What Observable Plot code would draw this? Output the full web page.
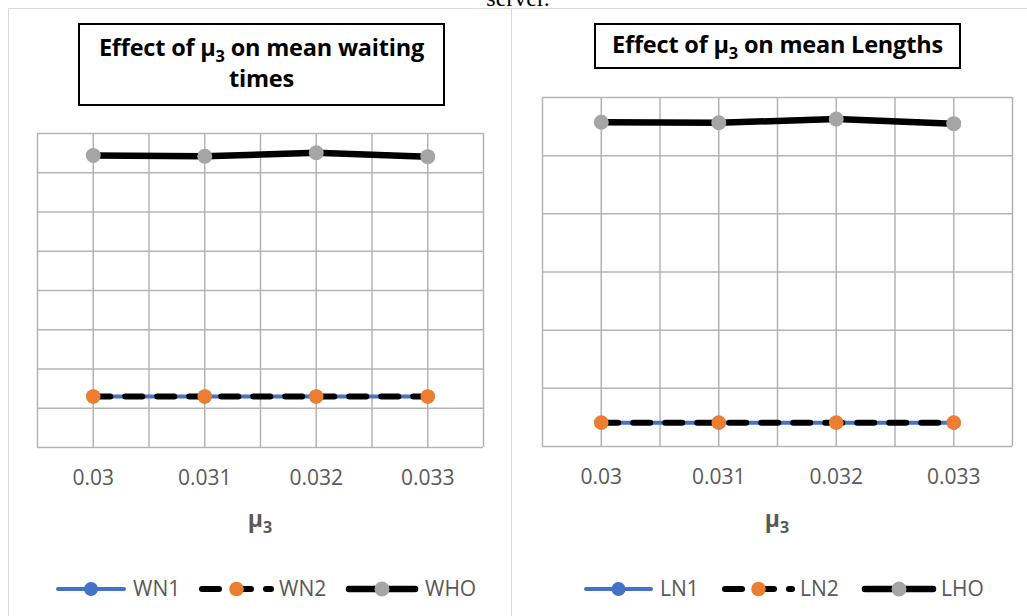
<!DOCTYPE html>
<html>
<head>
<meta charset="utf-8">
<script src="https://cdn.jsdelivr.net/npm/d3@7"></script>
<script src="https://cdn.jsdelivr.net/npm/@observablehq/plot@0.6"></script>
<style>
  body { margin: 0; background: #fff; }
  #page { position: relative; width: 1027px; height: 616px; overflow: hidden; background: #fff; font-family: "Open Sans", sans-serif; }
  .abs { position: absolute; }
  .lead { left: 0; width: 1036px; top: -14px; text-align: center; font-family: "Liberation Serif", serif; font-size: 24px; line-height: 24px; color: #000; }
  .panelL { left: 8px; top: 8px; width: 504px; height: 640px; border-top: 1.5px solid #d9d9d9; border-left: 1.5px solid #d9d9d9; border-right: 1.5px solid #d9d9d9; box-sizing: border-box; }
  .panelR { left: 512px; top: 8px; width: 520px; height: 640px; border-top: 1.5px solid #d9d9d9; box-sizing: border-box; }
  .title { box-sizing: border-box; border: 2px solid #000; background: #fff; text-align: center; font-family: "Open Sans", sans-serif; font-weight: 700; font-size: 23.5px; line-height: 31px; color: #000; letter-spacing: -0.2px; }
  .title sub, .xlab sub { font-size: 0.7em; line-height: 0; }
  .xlab { font-weight: 700; font-size: 23px; line-height: 28px; color: #595959; text-align: center; width: 100px; }
</style>
</head>
<body>
<div id="page">
  <div class="abs lead">server.</div>
  <div class="abs panelL"></div>
  <div class="abs panelR"></div>
</div>
<script>
// μ3 values along the horizontal axis
const mu3 = [0.03, 0.031, 0.032, 0.033];
const mu3Labels = ["0.03", "0.031", "0.032", "0.033"];

// Mean waiting times
const WN1 = [1.30, 1.30, 1.30, 1.30];
const WN2 = [1.30, 1.30, 1.30, 1.30];
const WHO = [7.44, 7.42, 7.51, 7.41];

// Mean lengths
const LN1 = [0.41, 0.41, 0.41, 0.41];
const LN2 = [0.41, 0.41, 0.41, 0.41];
const LHO = [5.575, 5.565, 5.63, 5.55];

const waitNames = ["WN1", "WN2", "WHO"];
const lengthNames = ["LN1", "LN2", "LHO"];

const BLUE = "#4472C4", ORANGE = "#ED7D31", GRAY = "#A5A5A5", GRID = "#b4b4b4";
const page = document.getElementById("page");

function rows(values) {
  return mu3.map((m, i) => ({mu: m, v: values[i]}));
}

// gridlines at every category and half-way between them
const step = (mu3[1] - mu3[0]) / 2;
const gridX = d3.range(0, mu3.length * 2 + 1).map(k => mu3[0] - step + k * step);
const xDomain = [gridX[0], gridX[gridX.length - 1]];

function panel({series, yMax, width, height, marginLeft, marginRight, marginTop, marginBottom}) {
  const [s1, s2, s3] = series.map(rows);
  return Plot.plot({
    width, height, marginLeft, marginRight, marginTop, marginBottom,
    style: {fontFamily: "Open Sans, sans-serif", background: "transparent", overflow: "visible"},
    x: {type: "linear", domain: xDomain},
    y: {domain: [0, yMax], axis: null},
    marks: [
      Plot.ruleX(gridX, {stroke: GRID, strokeWidth: 1.5}),
      Plot.ruleY(d3.range(0, yMax + 1), {stroke: GRID, strokeWidth: 1.5}),
      Plot.axisX({ticks: mu3, tickFormat: d => mu3Labels[mu3.indexOf(d)], tickSize: 0, tickPadding: 23,
                  fontSize: 21, fill: "#595959", label: null}),
      Plot.line(s1, {x: "mu", y: "v", stroke: BLUE, strokeWidth: 4, strokeLinecap: "round"}),
      Plot.dot(s1, {x: "mu", y: "v", r: 7, fill: BLUE, stroke: "none"}),
      Plot.line(s2, {x: "mu", y: "v", stroke: "#000", strokeWidth: 6, strokeLinecap: "round", strokeDasharray: "17 15"}),
      Plot.dot(s2, {x: "mu", y: "v", r: 7.3, fill: ORANGE, stroke: "none"}),
      Plot.line(s3, {x: "mu", y: "v", stroke: "#000", strokeWidth: 6.5}),
      Plot.dot(s3, {x: "mu", y: "v", r: 7.5, fill: GRAY, stroke: "none"})
    ]
  });
}

function place(el, left, top) {
  el.style.position = "absolute";
  el.style.left = left + "px";
  el.style.top = top + "px";
  page.appendChild(el);
  return el;
}

// Left: waiting times
place(panel({series: [WN1, WN2, WHO], yMax: 8, width: 504, height: 430,
             marginLeft: 29, marginRight: 29, marginTop: 13, marginBottom: 103}), 8, 120);
// Right: lengths
place(panel({series: [LN1, LN2, LHO], yMax: 6, width: 514, height: 466,
             marginLeft: 29, marginRight: 15, marginTop: 13, marginBottom: 104}), 513, 84);

// Titles
function html(tag, cls, inner, css) {
  const el = document.createElement(tag);
  el.className = "abs " + cls;
  el.innerHTML = inner;
  Object.assign(el.style, css);
  page.appendChild(el);
  return el;
}
html("div", "title", "Effect of μ<sub>3</sub> on mean waiting times",
     {left: "78px", top: "23px", width: "367px", height: "83px", padding: "7px 4px 0"});
html("div", "title", "Effect of μ<sub>3</sub> on mean Lengths",
     {left: "594px", top: "23px", width: "367px", height: "46px", padding: "4px 0 0", whiteSpace: "nowrap"});

// Axis titles
html("div", "xlab", "μ<sub>3</sub>", {left: "210px", top: "504px"});
html("div", "xlab", "μ<sub>3</sub>", {left: "727px", top: "504px"});

// Legends
function legend(names, items, cy) {
  const svg = d3.create("svg").attr("width", 1027).attr("height", 40)
    .style("position", "absolute").style("left", "0px").style("top", (cy - 20) + "px");
  const styles = [
    {stroke: BLUE, width: 4, dash: null, fill: BLUE, r: 7},
    {stroke: "#000", width: 6, dash: "17 15", fill: ORANGE, r: 7.3},
    {stroke: "#000", width: 6.5, dash: null, fill: GRAY, r: 7.5}
  ];
  names.forEach((name, i) => {
    const [x0, x1, tx] = items[i];
    const s = styles[i];
    const g = svg.append("g");
    g.append("line").attr("x1", x0 + 3).attr("x2", x1 - 3).attr("y1", 20).attr("y2", 20)
      .attr("stroke", s.stroke).attr("stroke-width", s.width).attr("stroke-linecap", "round")
      .attr("stroke-dasharray", s.dash);
    g.append("circle").attr("cx", (x0 + x1) / 2).attr("cy", 20).attr("r", s.r).attr("fill", s.fill);
    g.append("text").attr("x", tx).attr("y", 20).attr("dy", "0.35em")
      .attr("font-family", "Open Sans, sans-serif").attr("font-size", 21).attr("fill", "#595959").text(name);
  });
  page.appendChild(svg.node());
}
legend(waitNames, [[55, 127, 133], [199, 274, 279], [346, 418, 425]], 589);
legend(lengthNames, [[583, 654, 660], [722, 795, 800], [862, 936, 941]], 589);
</script>
</body>
</html>
